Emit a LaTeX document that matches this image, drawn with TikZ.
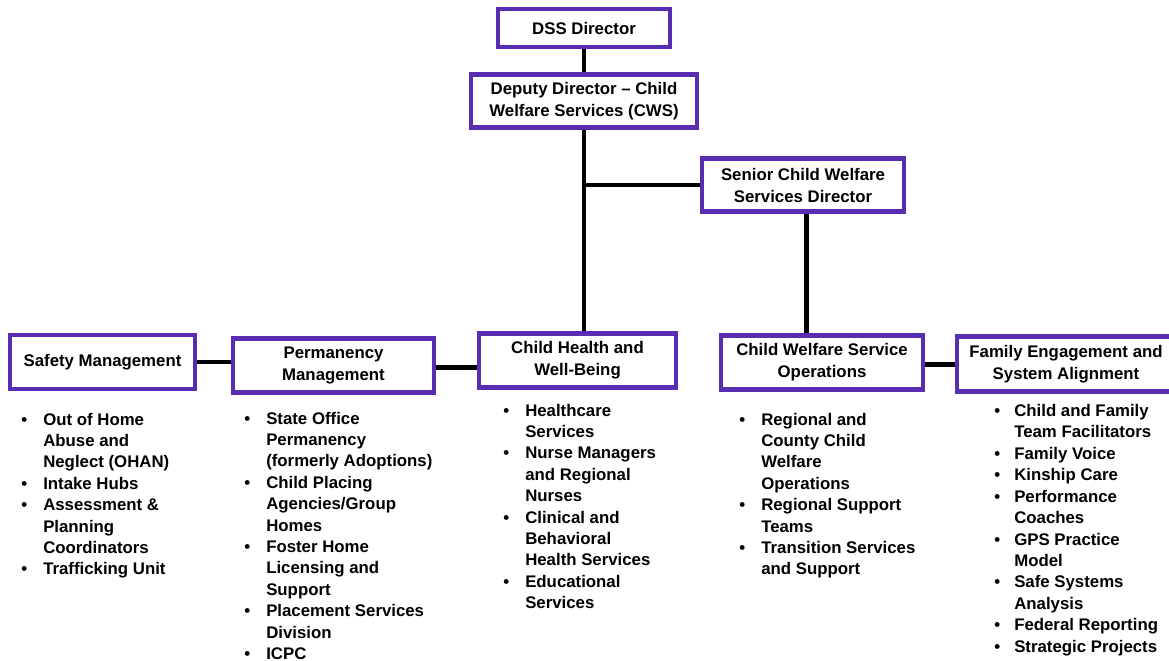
\documentclass[tikz,border=0pt]{standalone}
\usepackage{fontspec}
\setmainfont{Liberation Sans}
\definecolor{boxpurple}{RGB}{88,45,178}
\newcommand{\orgfont}{\fontsize{12.6}{16.07}\selectfont\bfseries}
\newcommand{\boxfont}{\fontsize{12.6}{16.5}\selectfont\bfseries}
\begin{document}
\begin{tikzpicture}[x=0.75pt,y=-0.75pt,
    unitbox/.style={draw=boxpurple,line width=3.2pt,fill=white,align=center,
      inner sep=0pt,font=\boxfont},
    duties/.style={anchor=base west,inner sep=0pt,font=\orgfont},
    link/.style={line width=3.5pt}]
  \useasboundingbox (0,0) rectangle (1169,660);
  % management boxes
  \node[unitbox,minimum width=129pt,minimum height=28.5pt] (dss) at (584,28) {DSS Director};
  \node[unitbox,minimum width=169.5pt,minimum height=39.75pt] (deputy) at (584,101)
    {Deputy Director -- Child\\Welfare Services (CWS)};
  \node[unitbox,minimum width=151.5pt,minimum height=39.75pt] (senior) at (803,185)
    {Senior Child Welfare\\Services Director};
  \node[unitbox,minimum width=138.75pt,minimum height=40.5pt] (safety) at (102.5,362)
    {Safety Management};
  \node[unitbox,minimum width=150.75pt,minimum height=40.5pt] (perm) at (333.5,365.5)
    {Permanency\\Management};
  \node[unitbox,minimum width=147.75pt,minimum height=40.5pt] (health) at (577.5,360.5)
    {Child Health and\\Well-Being};
  \node[unitbox,minimum width=151.5pt,minimum height=40.5pt] (ops) at (822,362.5)
    {Child Welfare Service\\Operations};
  \node[unitbox,minimum width=163.5pt,minimum height=41.25pt] (family) at (1066,364)
    {Family Engagement and\\System Alignment};
  % duty lists
  \node[duties] (safetylist) at (21,425) {\begin{tabular}[t]{@{}p{16.5pt}@{}l@{}}
    \textbullet & Out of Home\\ & Abuse and\\ & Neglect (OHAN)\\
    \textbullet & Intake Hubs\\
    \textbullet & Assessment \&\\ & Planning\\ & Coordinators\\
    \textbullet & Trafficking Unit
  \end{tabular}};
  \node[duties] (permlist) at (244,424) {\begin{tabular}[t]{@{}p{16.5pt}@{}l@{}}
    \textbullet & State Office\\ & Permanency\\ & (formerly Adoptions)\\
    \textbullet & Child Placing\\ & Agencies/Group\\ & Homes\\
    \textbullet & Foster Home\\ & Licensing and\\ & Support\\
    \textbullet & Placement Services\\ & Division\\
    \textbullet & ICPC
  \end{tabular}};
  \node[duties] (healthlist) at (503,416) {\begin{tabular}[t]{@{}p{16.5pt}@{}l@{}}
    \textbullet & Healthcare\\ & Services\\
    \textbullet & Nurse Managers\\ & and Regional\\ & Nurses\\
    \textbullet & Clinical and\\ & Behavioral\\ & Health Services\\
    \textbullet & Educational\\ & Services
  \end{tabular}};
  \node[duties] (opslist) at (739,425) {\begin{tabular}[t]{@{}p{16.5pt}@{}l@{}}
    \textbullet & Regional and\\ & County Child\\ & Welfare\\ & Operations\\
    \textbullet & Regional Support\\ & Teams\\
    \textbullet & Transition Services\\ & and Support
  \end{tabular}};
  \node[duties] (familylist) at (994,416.5) {\begin{tabular}[t]{@{}p{15pt}@{}l@{}}
    \textbullet & Child and Family\\ & Team Facilitators\\
    \textbullet & Family Voice\\
    \textbullet & Kinship Care\\
    \textbullet & Performance\\ & Coaches\\
    \textbullet & GPS Practice\\ & Model\\
    \textbullet & Safe Systems\\ & Analysis\\
    \textbullet & Federal Reporting\\
    \textbullet & Strategic Projects
  \end{tabular}};
  % reporting lines
  \begin{scope}[link]
    \draw (dss) -- (deputy);
    \draw (deputy.south) -- (deputy.south |- health.north);
    \draw (deputy.south |- senior.west) -- (senior.west);
    \draw ([xshift=2.5pt]senior.south) -- ([xshift=2.5pt]senior.south |- ops.north);
    \draw (safety.east) -- (safety.east -| perm.west);
    \draw ([yshift=-1.5pt]perm.east) -- ([yshift=-1.5pt]perm.east -| health.west);
    \draw ([yshift=-1.5pt]ops.east) -- ([yshift=-1.5pt]ops.east -| family.west);
  \end{scope}
\end{tikzpicture}
\end{document}
